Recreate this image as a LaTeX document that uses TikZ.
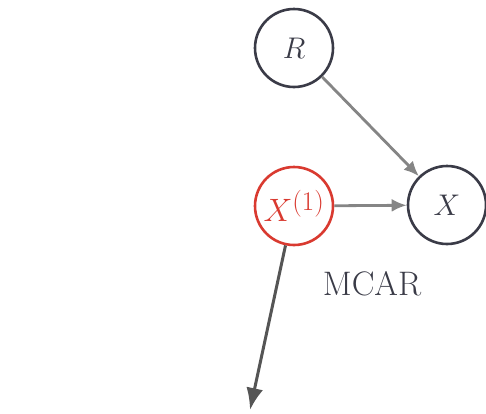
\documentclass[tikz,border=0pt]{standalone}
\usepackage{graphicx}
\usetikzlibrary{arrows.meta}
\definecolor{ink}{HTML}{3A3B47}
\definecolor{redc}{HTML}{D93A30}
\definecolor{arrl}{HTML}{858585}
\definecolor{arrd}{HTML}{555555}
\newcommand{\varlabel}[2][1.2]{\scalebox{#1}{$#2$}}
\begin{document}
\begin{tikzpicture}[x=1pt,y=-1pt,
  var/.style={circle,draw=ink,line width=2.6pt,minimum size=78pt,inner sep=0pt,
    text=ink,font=\fontsize{24.88}{28}\selectfont},
  redvar/.style={var,draw=redc,text=redc},
  lightarr/.style={draw=arrl,line width=2.8pt,-{Latex[length=15pt,width=13pt]}},
  darkarr/.style={draw=arrd,line width=3pt,-{Latex[length=22pt,width=17pt]}}]
\useasboundingbox (0,0) rectangle (486,413);
\node[var] (R) at (294,48) {\varlabel{R}};
\node[var] (X) at (447,205) {\varlabel{X}};
\node[redvar] (X1) at (294,206) {\varlabel[1.3]{X^{(1)}}};
\coordinate (end) at (250,410);
\node[text=ink,font=\fontsize{34}{36}\selectfont] (mcar) at (372,284) {MCAR};
\draw[lightarr] (R) -- (X);
\draw[lightarr] (X1) -- (X);
\draw[darkarr] (X1) -- (end);
\end{tikzpicture}
\end{document}
